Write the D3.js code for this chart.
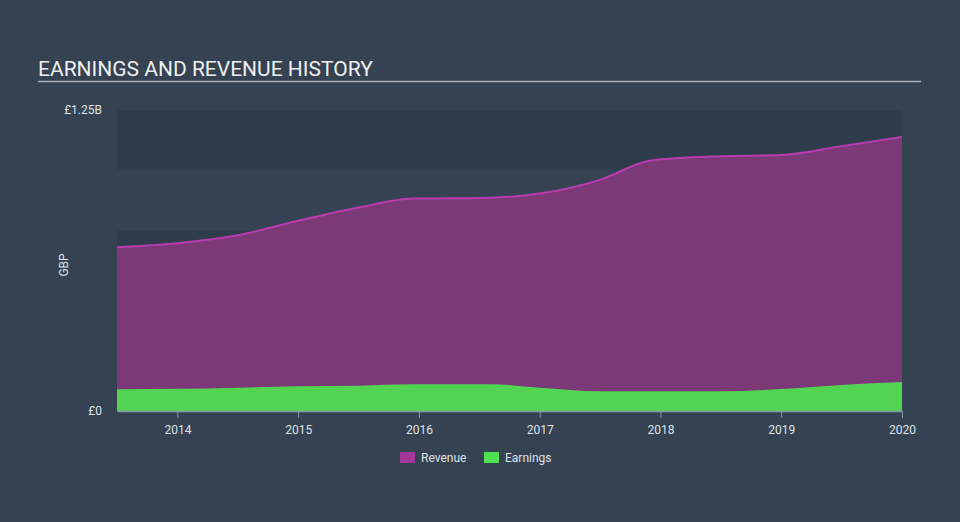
<!DOCTYPE html>
<html><head><meta charset="utf-8">
<script src="https://cdn.jsdelivr.net/npm/d3@7"></script>
<style>
html,body{margin:0;padding:0;background:#344252;}
svg{display:block;font-family:Roboto,"Open Sans",sans-serif;}
</style></head>
<body><svg id="c" width="960" height="522"></svg>
<script>
const dates = [2013.5, 2014.0, 2014.5, 2015.0, 2015.5, 2015.95, 2016.6, 2017.0, 2017.5, 2017.92, 2018.5, 2019.0, 2019.5, 2020.0];
const revenue = [0.680, 0.697, 0.730, 0.790, 0.845, 0.882, 0.886, 0.903, 0.960, 1.040, 1.058, 1.063, 1.100, 1.138];
const earnings = [0.090, 0.092, 0.097, 0.103, 0.105, 0.111, 0.111, 0.097, 0.082, 0.082, 0.082, 0.091, 0.108, 0.120];
const xTicks = [2014, 2015, 2016, 2017, 2018, 2019, 2020];
const yTickLabels = ["£0", "£1.25B"];
const yTickValues = [0, 1.25];
const seriesNames = ["Revenue", "Earnings"];
const colors = {Revenue: "#ba3bb0", Earnings: "#52d452"};

const svg = d3.select("#c");
const x = d3.scaleLinear().domain([2013.5, 2020.0]).range([117, 902]);
const y = d3.scaleLinear().domain([0, 1.25]).range([411, 110]);

// title
svg.append("text").attr("x", 38).attr("y", 76).attr("fill", "#eef0f2")
  .attr("font-size", 21).text("EARNINGS AND REVENUE HISTORY");
svg.append("line").attr("x1", 38).attr("x2", 921).attr("y1", 81.5).attr("y2", 81.5)
  .attr("stroke", "#a9b0b8").attr("stroke-width", 1.5);

// bands
const bandEdges = [0, 0.25, 0.5, 0.75, 1.0, 1.25];
for (let i = 0; i < bandEdges.length - 1; i++) {
  svg.append("rect").attr("x", x(2013.5)).attr("width", x(2020) - x(2013.5))
    .attr("y", y(bandEdges[i + 1])).attr("height", y(bandEdges[i]) - y(bandEdges[i + 1]))
    .attr("fill", (i % 2 === 0) ? "#2f3c4b" : "#354354");
}

const data = dates.map((d, i) => ({d, r: revenue[i], e: earnings[i]}));
const curve = d3.curveMonotoneX;
svg.append("path").datum(data)
  .attr("d", d3.area().x(p => x(p.d)).y0(y(0)).y1(p => y(p.r)).curve(curve))
  .attr("fill", "#7b3977");
svg.append("path").datum(data)
  .attr("d", d3.line().x(p => x(p.d)).y(p => y(p.r)).curve(curve))
  .attr("fill", "none").attr("stroke", colors.Revenue).attr("stroke-width", 2);
svg.append("path").datum(data)
  .attr("d", d3.area().x(p => x(p.d)).y0(y(0)).y1(p => y(p.e)).curve(curve))
  .attr("fill", colors.Earnings);

// x axis
const xa = svg.append("g").attr("transform", `translate(0,${y(0)})`)
  .call(d3.axisBottom(x).tickValues(xTicks).tickFormat(d3.format("d")).tickSize(7).tickSizeOuter(0));
xa.select(".domain").attr("stroke", "#8a96a3").attr("stroke-width", 1.5);
xa.selectAll(".tick line").attr("stroke", "#8a96a3");
xa.selectAll("text").attr("fill", "#dfe3e8").attr("font-size", 12).attr("dy", "1.1em")
  .attr("font-family", "Roboto,sans-serif");

// y labels
yTickValues.forEach((v, i) => {
  svg.append("text").attr("x", 102).attr("y", y(v) + 4).attr("text-anchor", "end")
    .attr("fill", "#dfe3e8").attr("font-size", 12).text(yTickLabels[i]);
});
svg.append("text").attr("transform", "translate(68,265) rotate(-90)")
  .attr("text-anchor", "middle").attr("fill", "#dfe3e8").attr("font-size", 12).text("GBP");

// legend
const lg = [{n: seriesNames[0], c: "#a2399a", x: 400}, {n: seriesNames[1], c: "#52e052", x: 484}];
lg.forEach(l => {
  svg.append("rect").attr("x", l.x).attr("y", 452).attr("width", 15).attr("height", 11).attr("fill", l.c);
  svg.append("text").attr("x", l.x + 21).attr("y", 462).attr("fill", "#dfe3e8")
    .attr("font-size", 12).text(l.n);
});
</script></body></html>
